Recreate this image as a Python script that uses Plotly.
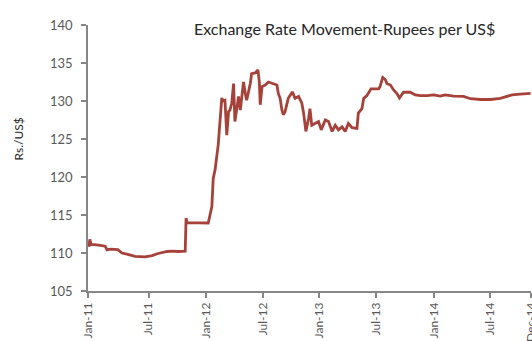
import plotly.graph_objects as go

# Trading-day index (0 = first trading day of Jan 2011) and the Rs./US$ rate
day = [2, 4, 7, 15, 27, 38, 42, 49, 66, 75, 86, 93, 104, 126, 137, 142, 153, 164,
       175, 186, 199, 215, 217, 219, 241, 266, 274, 277, 281, 285, 288, 296, 299,
       303, 307, 311, 314, 318, 322, 325, 329, 333, 337, 344, 348, 351, 359, 362,
       370, 376, 379, 381, 385, 392, 399, 410, 418, 421, 425, 429, 432, 436, 443,
       452, 458, 466, 473, 477, 482, 488, 491, 495, 503, 510, 516, 525, 532, 540,
       547, 554, 562, 569, 576, 584, 595, 598, 606, 610, 617, 626, 643, 646, 652,
       658, 661, 669, 676, 683, 689, 698, 713, 724, 735, 750, 765, 779, 790, 809,
       831, 846, 868, 890, 912, 927, 938, 956, 979]
rate = [110.8, 111.8, 111.1, 111.1, 111.0, 110.9, 110.4, 110.5, 110.45, 110.0,
        109.85, 109.7, 109.55, 109.5, 109.55, 109.65, 109.9, 110.1, 110.2, 110.25,
        110.2, 110.25, 114.6, 114.0, 113.95, 113.95, 116.1, 119.8, 120.9, 122.7,
        124.2, 130.4, 130.0, 130.1, 125.5, 128.6, 128.8, 129.7, 132.3, 127.3,
        129.25, 130.6, 128.8, 132.5, 131.0, 130.1, 132.3, 133.6, 133.7, 134.1,
        132.5, 129.5, 131.9, 132.1, 132.5, 132.3, 132.1, 131.0, 130.35, 128.8,
        128.2, 128.6, 130.35, 131.2, 130.35, 130.6, 129.7, 128.4, 126.0, 127.7,
        129.0, 126.8, 127.05, 127.3, 126.2, 127.5, 127.3, 126.0, 126.8, 126.2,
        126.6, 126.0, 127.05, 126.5, 126.4, 128.4, 129.0, 130.35, 130.7, 131.6,
        131.6, 131.9, 133.1, 132.8, 132.3, 132.1, 131.45, 131.0, 130.4, 131.15,
        131.15, 130.8, 130.7, 130.7, 130.8, 130.65, 130.8, 130.65, 130.6, 130.3,
        130.2, 130.2, 130.35, 130.6, 130.8, 130.9, 131.0]

tick_days = [0, 134, 261, 387, 512, 637, 766, 890, 980]
tick_labels = ["Jan-11", "Jul-11", "Jan-12", "Jul-12", "Jan-13", "Jul-13",
               "Jan-14", "Jul-14", "Dec-14"]
y_ticks = [105, 110, 115, 120, 125, 130, 135, 140]

FONT = "Lato"
AXIS_GREY = "#868686"
TEXT_GREY = "#595959"

fig = go.Figure(
    go.Scatter(
        x=day, y=rate, mode="lines",
        line=dict(color="#A7423B", width=2.8),
        hoverinfo="skip",
    )
)

fig.update_layout(
    width=532, height=341,
    margin=dict(l=88, r=1, t=25, b=50),
    paper_bgcolor="white", plot_bgcolor="white",
    showlegend=False,
    font=dict(family=FONT, color=TEXT_GREY, size=12),
    annotations=[
        dict(text="Exchange Rate Movement-Rupees per US$",
             xref="paper", yref="paper", x=0.58, y=1.0,
             xanchor="center", yanchor="middle", yshift=-3, showarrow=False,
             font=dict(family=FONT, size=16, color="#262626")),
        dict(text="Rs./US$", xref="paper", yref="paper",
             x=-0.158, y=0.57, xanchor="center", yanchor="middle",
             textangle=-90, showarrow=False,
             font=dict(family=FONT, size=12, color="#262626")),
    ],
)

fig.update_xaxes(
    range=[0, 980], tickmode="array", tickvals=tick_days, ticktext=tick_labels,
    tickangle=-90, ticks="outside", ticklen=5, tickcolor=AXIS_GREY, tickwidth=1.5,
    showline=True, linecolor=AXIS_GREY, linewidth=1.5, showgrid=False,
    zeroline=False, ticklabeloverflow="allow", automargin=False,
    tickfont=dict(family=FONT, size=12, color=TEXT_GREY),
)
fig.update_yaxes(
    range=[105, 140], tickmode="array", tickvals=y_ticks,
    ticks="outside", ticklen=5, tickcolor=AXIS_GREY, tickwidth=1.5,
    showline=True, linecolor=AXIS_GREY, linewidth=1.5, showgrid=False,
    zeroline=False, ticklabelstandoff=6, automargin=False,
    tickfont=dict(family=FONT, size=13, color=TEXT_GREY),
)

fig.write_html("out.html")
